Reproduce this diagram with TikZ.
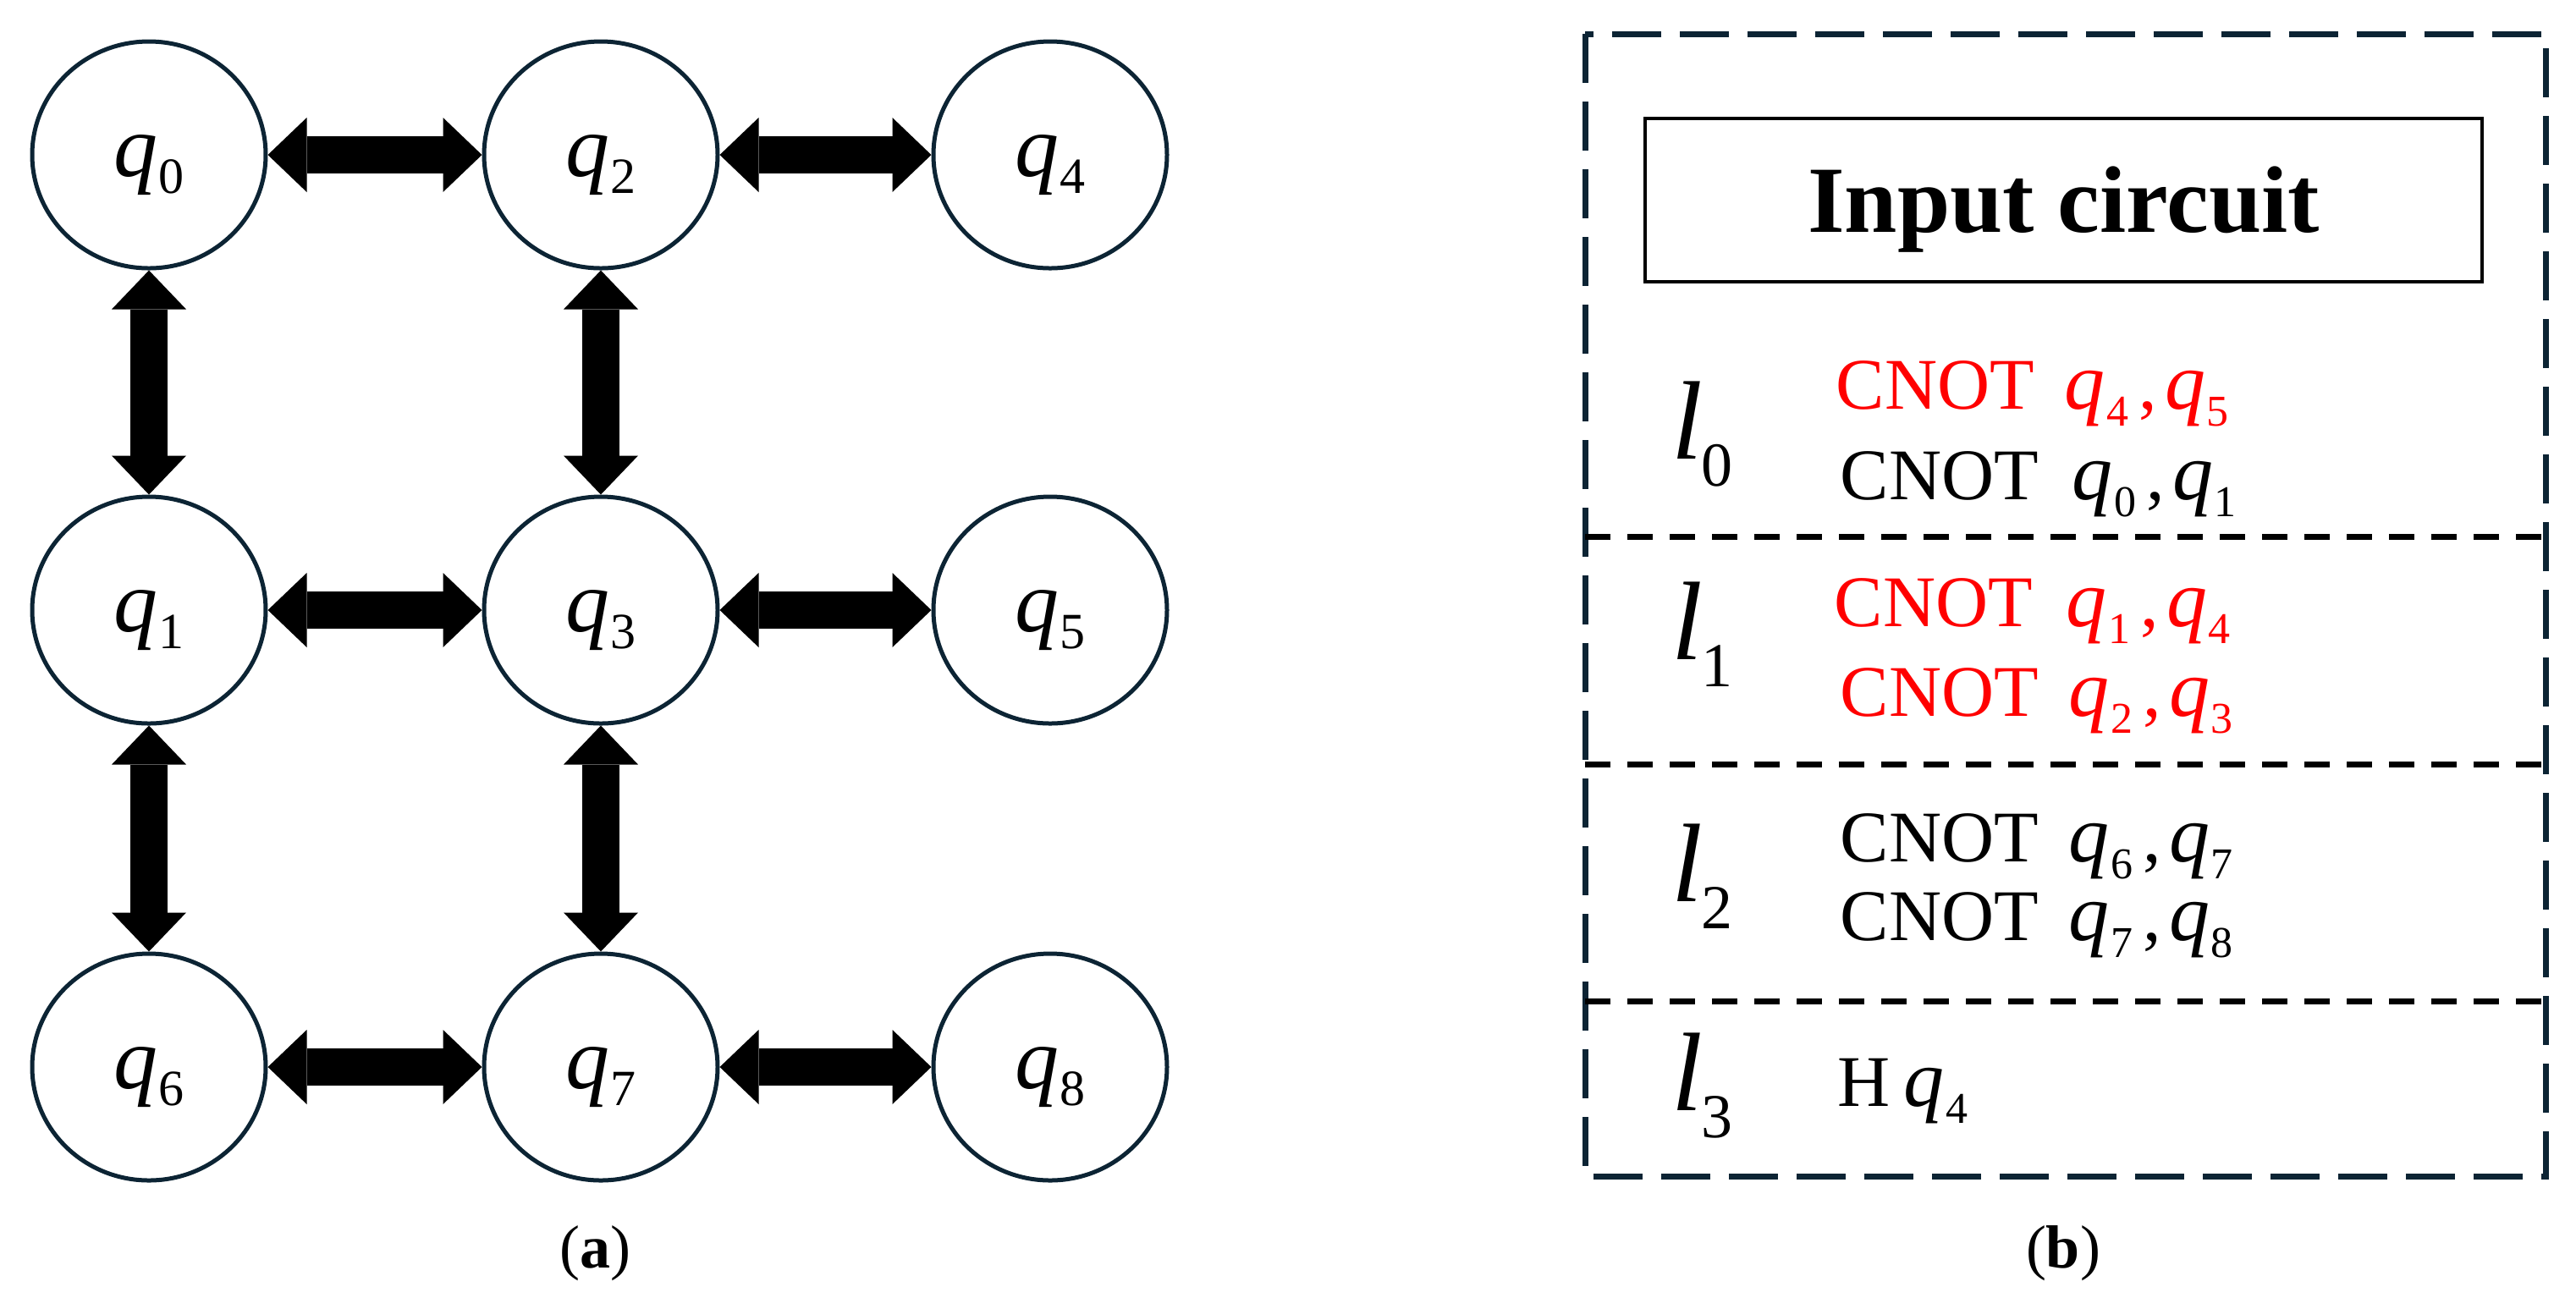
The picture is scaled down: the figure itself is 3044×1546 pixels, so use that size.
\documentclass[tikz,border=0pt]{standalone}
\usepackage{fontspec}
\setmainfont{Liberation Serif}
\usetikzlibrary{arrows.meta,shapes.geometric}
\definecolor{navy}{RGB}{12,36,52}
\definecolor{qred}{RGB}{255,0,0}
\newcommand{\circq}[1]{{\fontsize{26pt}{26pt}\selectfont\itshape q}\kern0.3pt\raisebox{-5pt}{\fontsize{15pt}{15pt}\selectfont #1}}
\newcommand{\gateq}[1]{{\fontsize{24pt}{24pt}\selectfont\itshape q}\kern0.3pt\raisebox{-5pt}{\fontsize{13pt}{13pt}\selectfont #1}}
\newcommand{\qpair}[2]{\gateq{#1}\kern3pt,\kern2.5pt\gateq{#2}}
\newcommand{\layerlab}[1]{{\fontsize{33pt}{33pt}\selectfont\itshape l}\kern-0.5pt\raisebox{-8pt}{\fontsize{18.5pt}{18.5pt}\selectfont #1}}
\begin{document}
\begin{tikzpicture}[x=0.25pt,y=-0.25pt,
  qubit/.style={ellipse, draw=navy, line width=1.25pt, minimum width=69pt, minimum height=67pt, inner sep=0pt, text height=12.5pt, text depth=0pt},
  link/.style={line width=11pt, {Triangle[width=22pt,length=11.5pt,line width=0pt]}-{Triangle[width=22pt,length=11.5pt,line width=0pt]}},
  outerbox/.style={draw=navy, line width=1.75pt, dash pattern=on 14.5pt off 5.5pt},
  divider/.style={draw=black, line width=1.75pt, dash pattern=on 7.5pt off 5pt},
  titlebox/.style={draw=black, line width=0.9pt, minimum width=247.25pt, minimum height=48.25pt, inner sep=0pt, font=\fontsize{28pt}{28pt}\selectfont\bfseries, text height=18.75pt, text depth=0pt},
  layer/.style={anchor=base west, inner sep=0pt},
  gate/.style={anchor=base west, inner sep=0pt, font=\fontsize{21.5pt}{21.5pt}\selectfont},
  caption/.style={inner sep=0pt, font=\fontsize{18pt}{18pt}\selectfont}
]
\useasboundingbox (0,0) rectangle (3044,1546);
% qubits
\node[qubit] (q0) at (176,183) {\circq{0}};
\node[qubit] (q2) at (710,183) {\circq{2}};
\node[qubit] (q4) at (1241,183) {\circq{4}};
\node[qubit] (q1) at (176,721) {\circq{1}};
\node[qubit] (q3) at (710,721) {\circq{3}};
\node[qubit] (q5) at (1241,721) {\circq{5}};
\node[qubit] (q6) at (176,1261) {\circq{6}};
\node[qubit] (q7) at (710,1261) {\circq{7}};
\node[qubit] (q8) at (1241,1261) {\circq{8}};
% couplings
\draw[link] (q0) -- (q2);
\draw[link] (q2) -- (q4);
\draw[link] (q1) -- (q3);
\draw[link] (q3) -- (q5);
\draw[link] (q6) -- (q7);
\draw[link] (q7) -- (q8);
\draw[link] (q0) -- (q1);
\draw[link] (q2) -- (q3);
\draw[link] (q1) -- (q6);
\draw[link] (q3) -- (q7);
\node[caption] (capa) at (703,1481) {(\textbf{a})};
% circuit panel
\coordinate (tl) at (1873,40);
\coordinate (br) at (3008,1390);
\draw[outerbox] (tl) rectangle (br);
\coordinate (d1l) at (1873,634); \coordinate (d1r) at (3008,634);
\coordinate (d2l) at (1873,903); \coordinate (d2r) at (3008,903);
\coordinate (d3l) at (1873,1183); \coordinate (d3r) at (3008,1183);
\draw[divider] (d1l) -- (d1r);
\draw[divider] (d2l) -- (d2r);
\draw[divider] (d3l) -- (d3r);
\node[titlebox] (title) at (2438.5,236.5) {Input circuit};
\node[layer] (l0) at (1975,542) {\layerlab{0}};
\node[layer] (l1) at (1975,779) {\layerlab{1}};
\node[layer] (l2) at (1975,1065) {\layerlab{2}};
\node[layer] (l3) at (1975,1312) {\layerlab{3}};
\node[gate, text=qred] (g00) at (2169,483) {CNOT\hspace{9pt}\qpair{4}{5}};
\node[gate] (g01) at (2174,590) {CNOT\hspace{10pt}\qpair{0}{1}};
\node[gate, text=qred] (g10) at (2167,740) {CNOT\hspace{10pt}\qpair{1}{4}};
\node[gate, text=qred] (g11) at (2174,846) {CNOT\hspace{9pt}\qpair{2}{3}};
\node[gate] (g20) at (2174,1018) {CNOT\hspace{9pt}\qpair{6}{7}};
\node[gate] (g21) at (2174,1111) {CNOT\hspace{9pt}\qpair{7}{8}};
\node[gate] (g30) at (2171,1307) {H\kern4pt\gateq{4}};
\node[caption] (capb) at (2438,1481) {(\textbf{b})};
\end{tikzpicture}
\end{document}
